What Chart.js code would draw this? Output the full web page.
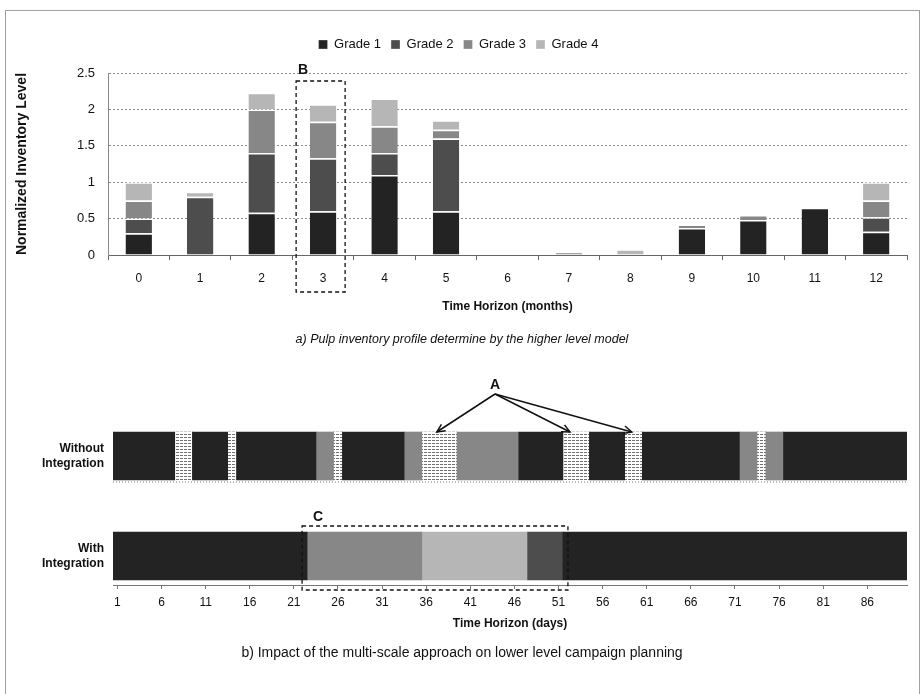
<!DOCTYPE html>
<html>
<head>
<meta charset="utf-8">
<script src="https://cdn.jsdelivr.net/npm/chart.js@4.4.0/dist/chart.umd.min.js"></script>
<style>
  html, body { margin: 0; padding: 0; background: #fff; }
  body { width: 924px; height: 694px; position: relative; overflow: hidden; font-family: "Liberation Sans", Arial, sans-serif; }
  #frame { position: absolute; left: 5px; top: 10px; width: 913px; height: 700px; border: 1px solid #a0a0a0; }
  #top { position: absolute; left: 0; top: 0; }
  #bottom { position: absolute; left: 0; top: 350px; }
  .cap { position: absolute; left: 0; width: 924px; text-align: center; color: #111; }
</style>
</head>
<body>
<div id="frame"></div>
<canvas id="top" width="924" height="350"></canvas>
<canvas id="bottom" width="924" height="344"></canvas>
<div class="cap" style="top:332px; font-size:12.5px; font-style:italic;">a) Pulp inventory profile determine by the higher level model</div>
<div class="cap" style="top:644px; font-size:14px;">b) Impact of the multi-scale approach on lower level campaign planning</div>
<script>
// top chart: pulp inventory per month
var months = ['0', '1', '2', '3', '4', '5', '6', '7', '8', '9', '10', '11', '12'];
var grade1 = [0.30, 0, 0.58, 0.60, 1.10, 0.60, 0, 0, 0, 0.37, 0.48, 0.65, 0.32];
var grade2 = [0.20, 0.80, 0.82, 0.73, 0.30, 1.00, 0, 0, 0, 0, 0, 0, 0.20];
var grade3 = [0.25, 0, 0.60, 0.50, 0.37, 0.12, 0, 0.04, 0, 0.05, 0.07, 0, 0.23];
var grade4 = [0.25, 0.07, 0.23, 0.24, 0.38, 0.13, 0, 0, 0.08, 0, 0, 0, 0.25];
var levelTicks = [0, 0.5, 1, 1.5, 2, 2.5];

// bottom chart: campaign plan per day
var dayTicks = [1, 6, 11, 16, 21, 26, 31, 36, 41, 46, 51, 56, 61, 66, 71, 76, 81, 86];
var rowLabels = [['Without', 'Integration'], ['With', 'Integration']];
var withoutEdges = [0.5, 7.5, 9.5, 13.5, 14.5, 23.5, 25.5, 26.5, 33.5, 35.5, 39.5, 46.5, 51.5, 54.5, 58.5, 60.5, 71.5, 73.5, 74.5, 76.5, 90.5];
var withoutGrades = ['Grade 1', 'Idle', 'Grade 1', 'Idle', 'Grade 1', 'Grade 3', 'Idle', 'Grade 1', 'Grade 3', 'Idle', 'Grade 3', 'Grade 1', 'Idle', 'Grade 1', 'Idle', 'Grade 1', 'Grade 3', 'Idle', 'Grade 3', 'Grade 1'];
var withEdges = [0.5, 22.5, 35.5, 47.5, 51.5, 90.5];
var withGrades = ['Grade 1', 'Grade 3', 'Grade 4', 'Grade 2', 'Grade 1'];

var gradeNames = ['Grade 1', 'Grade 2', 'Grade 3', 'Grade 4'];
var gradeColors = ['#232323', '#4d4d4d', '#878787', '#b6b6b6'];
var txt = '#111';
var baseFont = '"Liberation Sans", Arial, sans-serif';
Chart.defaults.font.family = baseFont;
Chart.defaults.color = txt;

// striped fill for idle days
var bctx = document.getElementById('bottom').getContext('2d');
var pc = document.createElement('canvas');
pc.width = 4; pc.height = 3;
var pctx = pc.getContext('2d');
pctx.fillStyle = '#fff'; pctx.fillRect(0, 0, 4, 3);
pctx.fillStyle = '#707070'; pctx.fillRect(0, 0, 3, 1);
var idlePattern = bctx.createPattern(pc, 'repeat');

var legendGap = {
    id: 'legendGap',
    beforeInit: function (chart) {
        var fit = chart.legend.fit;
        chart.legend.fit = function () {
            fit.bind(chart.legend)();
            this.height = 45;
        };
    }
};

var boxB = {
    id: 'boxB',
    afterDraw: function (chart) {
        var c = chart.ctx, a = chart.chartArea;
        var cx = chart.scales.x.getPixelForValue(3);
        c.save();
        c.strokeStyle = '#111';
        c.lineWidth = 1.3;
        c.setLineDash([4, 3]);
        c.strokeRect(cx - 27, a.top + 8, 49, a.bottom - a.top + 29);
        c.setLineDash([]);
        c.fillStyle = txt;
        c.font = 'bold 14px ' + baseFont;
        c.textAlign = 'center';
        c.textBaseline = 'middle';
        c.fillText('B', cx - 20, a.top - 3);
        c.restore();
    }
};

var topSets = [grade1, grade2, grade3, grade4].map(function (vals, i) {
    return {
        label: gradeNames[i],
        data: vals,
        backgroundColor: gradeColors[i],
        borderColor: 'rgba(255,255,255,0.85)',
        borderWidth: { top: 1.5, left: 0, right: 0, bottom: 0 },
        borderSkipped: false,
        barPercentage: 0.43,
        categoryPercentage: 1
    };
});

var chart = new Chart(document.getElementById('top').getContext('2d'), {
    type: 'bar',
    data: { labels: months, datasets: topSets },
    plugins: [legendGap, boxB],
    options: {
        responsive: false,
        animation: false,
        layout: { padding: { top: 28, left: 10, right: 17, bottom: 36 } },
        plugins: {
            legend: {
                position: 'top',
                labels: { boxWidth: 9, boxHeight: 9, padding: 10, color: txt, font: { size: 13 } }
            },
            tooltip: { enabled: false }
        },
        scales: {
            x: {
                stacked: true,
                grid: { drawOnChartArea: false, offset: true, tickLength: 5, color: '#666' },
                border: { color: '#666', dash: [2, 2] },
                ticks: { padding: 11, color: txt, font: { size: 12 } },
                title: { display: true, text: 'Time Horizon (months)', color: txt, padding: 0, font: { size: 12, weight: 'bold' } },
                afterFit: function (s) { s.height = 59; }
            },
            y: {
                stacked: true,
                min: 0,
                max: 2.5,
                afterBuildTicks: function (s) { s.ticks = levelTicks.map(function (v) { return { value: v }; }); },
                grid: { color: '#8a8a8a', drawTicks: false },
                border: { display: true, color: '#888', dash: [2, 2] },
                ticks: {
                    padding: 13,
                    color: txt,
                    font: { size: 13 },
                    callback: function (v) { return String(v); }
                },
                title: { display: true, text: 'Normalized Inventory Level', color: txt, padding: { top: 4, bottom: 0 }, font: { size: 14, weight: 'bold' } },
                afterFit: function (s) { s.width = 98; }
            }
        }
    }
});

function arrow(c, x0, y0, x1, y1) {
    c.beginPath(); c.moveTo(x0, y0); c.lineTo(x1, y1); c.stroke();
    var ang = Math.atan2(y1 - y0, x1 - x0), h = 9;
    c.beginPath();
    c.moveTo(x1 - h * Math.cos(ang - 0.45), y1 - h * Math.sin(ang - 0.45));
    c.lineTo(x1, y1);
    c.lineTo(x1 - h * Math.cos(ang + 0.45), y1 - h * Math.sin(ang + 0.45));
    c.stroke();
}

var marksAC = {
    id: 'marksAC',
    afterDraw: function (chart) {
        var c = chart.ctx, xs = chart.scales.x, ys = chart.scales.y;
        var r0 = ys.getPixelForValue(0), r1 = ys.getPixelForValue(1);
        c.save();
        c.fillStyle = txt;
        c.strokeStyle = '#111';
        c.font = 'bold 14px ' + baseFont;
        c.textAlign = 'center';
        c.textBaseline = 'middle';
        // A with its arrows
        var ax = xs.getPixelForValue(43.8), ay = r0 - 62;
        c.fillText('A', ax, ay - 9);
        c.lineWidth = 1.5;
        [37.2, 52.3, 59.3].forEach(function (d) {
            arrow(c, ax, ay, xs.getPixelForValue(d), r0 - 24);
        });
        // dotted baseline under the first row
        c.lineWidth = 1;
        c.strokeStyle = '#777';
        c.setLineDash([1, 2]);
        c.beginPath();
        c.moveTo(xs.left, r0 + 26); c.lineTo(xs.right, r0 + 26);
        c.stroke();
        // C box
        c.strokeStyle = '#111';
        c.lineWidth = 1.3;
        c.setLineDash([4, 3]);
        var cl = xs.getPixelForValue(22.5) - 5, cr = xs.getPixelForValue(51.5) + 5;
        c.strokeRect(cl, r1 - 30, cr - cl, 64);
        c.setLineDash([]);
        c.fillText('C', cl + 16, r1 - 39);
        c.restore();
    }
};

function segments(edges, grades, row) {
    return grades.map(function (g, i) {
        return { grade: g, x: [edges[i], edges[i + 1]], y: row };
    });
}
var allSegs = segments(withoutEdges, withoutGrades, 0).concat(segments(withEdges, withGrades, 1));

var campaignSets = gradeNames.concat(['Idle']).map(function (name) {
    return {
        label: name,
        data: allSegs.filter(function (s) { return s.grade === name; }).map(function (s) { return { x: s.x, y: s.y }; }),
        backgroundColor: name === 'Idle' ? idlePattern : gradeColors[gradeNames.indexOf(name)],
        borderWidth: 0,
        barThickness: 48,
        grouped: false
    };
});

var chart2 = new Chart(bctx, {
    type: 'bar',
    data: { datasets: campaignSets },
    plugins: [marksAC],
    options: {
        indexAxis: 'y',
        responsive: false,
        animation: false,
        layout: { padding: { top: 56, left: 0, right: 17, bottom: 63 } },
        plugins: { legend: { display: false }, tooltip: { enabled: false } },
        scales: {
            x: {
                type: 'linear',
                min: 0.5,
                max: 90.5,
                afterBuildTicks: function (s) { s.ticks = dayTicks.map(function (v) { return { value: v }; }); },
                grid: { drawOnChartArea: false, tickLength: 4, color: '#777' },
                border: { color: '#777', dash: [1, 2] },
                ticks: { padding: 6, color: txt, font: { size: 12 } },
                title: { display: true, text: 'Time Horizon (days)', color: txt, padding: 0, font: { size: 12, weight: 'bold' } },
                afterFit: function (s) { s.height = 46; }
            },
            y: {
                type: 'linear',
                reverse: true,
                offset: false,
                min: -0.5,
                max: 1.29,
                afterBuildTicks: function (s) { s.ticks = [{ value: 0 }, { value: 1 }]; },
                grid: { display: false, drawTicks: false },
                border: { display: false },
                ticks: {
                    padding: 9,
                    color: txt,
                    font: { size: 12, weight: 'bold' },
                    callback: function (v) { return rowLabels[v]; }
                },
                afterFit: function (s) { s.width = 113; }
            }
        }
    }
});
</script>
</body>
</html>
